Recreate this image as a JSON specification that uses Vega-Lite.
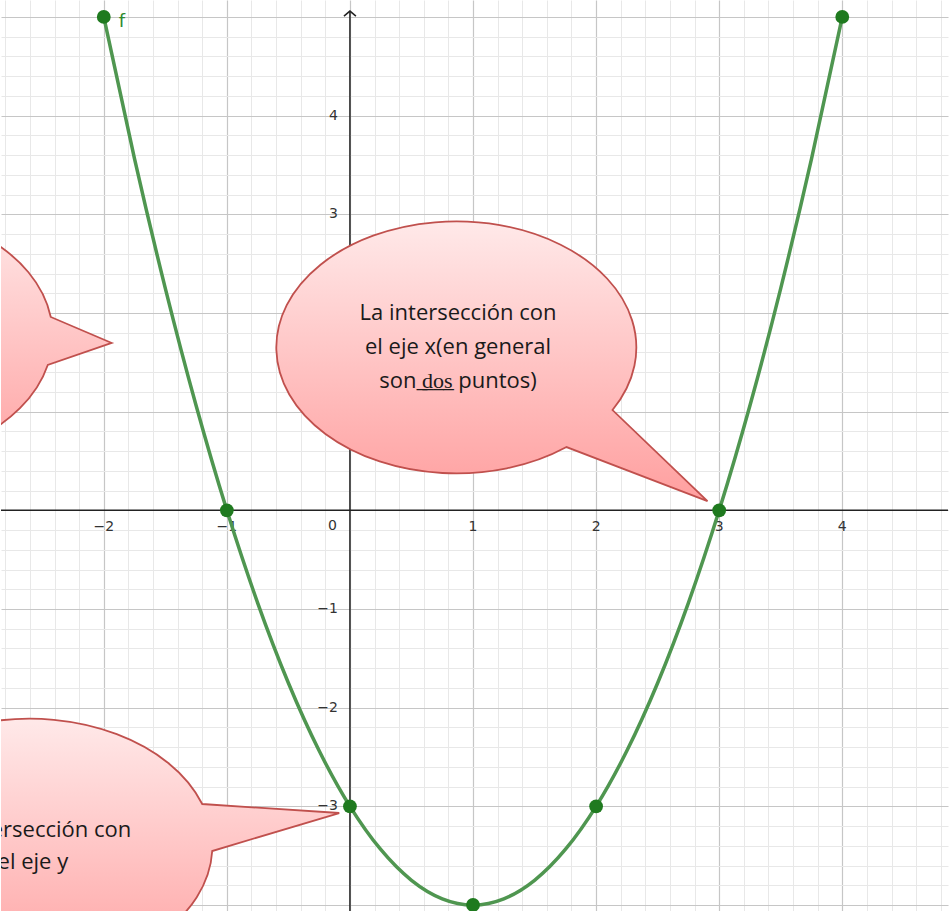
{
  "$schema": "https://vega.github.io/schema/vega-lite/v6.json",
  "width": 949,
  "height": 911,
  "padding": 0,
  "autosize": {"type": "fit", "contains": "padding"},
  "background": "white",
  "config": {"view": {"stroke": null}},
  "datasets": {
    "curve": [
      {"x": -2, "y": 5}, {"x": -1.75, "y": 3.5625}, {"x": -1.5, "y": 2.25}, {"x": -1.25, "y": 1.0625},
      {"x": -1, "y": 0}, {"x": -0.75, "y": -0.9375}, {"x": -0.5, "y": -1.75}, {"x": -0.25, "y": -2.4375},
      {"x": 0, "y": -3}, {"x": 0.25, "y": -3.4375}, {"x": 0.5, "y": -3.75}, {"x": 0.75, "y": -3.9375},
      {"x": 1, "y": -4}, {"x": 1.25, "y": -3.9375}, {"x": 1.5, "y": -3.75}, {"x": 1.75, "y": -3.4375},
      {"x": 2, "y": -3}, {"x": 2.25, "y": -2.4375}, {"x": 2.5, "y": -1.75}, {"x": 2.75, "y": -0.9375},
      {"x": 3, "y": 0}, {"x": 3.25, "y": 1.0625}, {"x": 3.5, "y": 2.25}, {"x": 3.75, "y": 3.5625},
      {"x": 4, "y": 5}
    ],
    "pts": [
      {"x": -2, "y": 5}, {"x": -1, "y": 0}, {"x": 0, "y": -3}, {"x": 1, "y": -4},
      {"x": 2, "y": -3}, {"x": 3, "y": 0}, {"x": 4, "y": 5}
    ],
    "xlabels": [
      {"x": -2, "y": 0, "t": "−2"}, {"x": -1, "y": 0, "t": "−1"}, {"x": 1, "y": 0, "t": "1"},
      {"x": 2, "y": 0, "t": "2"}, {"x": 3, "y": 0, "t": "3"}, {"x": 4, "y": 0, "t": "4"}
    ],
    "ylabels": [
      {"x": 0, "y": 4, "t": "4"}, {"x": 0, "y": 3, "t": "3"}, {"x": 0, "y": 2, "t": "2"},
      {"x": 0, "y": 1, "t": "1"}, {"x": 0, "y": -1, "t": "−1"}, {"x": 0, "y": -2, "t": "−2"},
      {"x": 0, "y": -3, "t": "−3"}
    ],
    "bubbles": [
      {"id": "mid", "x": 2.905, "y": 0.094},
      {"id": "left", "x": -1.935, "y": 1.696},
      {"id": "bottom", "x": -0.087, "y": -3.068}
    ],
    "notes": [
      {"x": 0.878, "y": 2.0, "t": "La intersección con"},
      {"x": 0.878, "y": 1.655, "t": "el eje x(en general"},
      {"x": 0.878, "y": 1.31, "t": "son \u0332d\u0332o\u0332s\u0332 puntos)"},
      {"x": -2.576, "y": -3.24, "t": "La intersección con"},
      {"x": -2.576, "y": -3.564, "t": "el eje y"}
    ]
  },
  "layer": [
    {
      "data": {"name": "pts"},
      "mark": {"type": "point", "opacity": 0},
      "encoding": {
        "x": {"field": "x", "type": "quantitative", "scale": {"domain": [-2.835, 4.859], "nice": false, "zero": false},
          "axis": {"orient": "bottom", "values": [-2.8,-2.6,-2.4,-2.2,-1.8,-1.6,-1.4,-1.2,-0.8,-0.6,-0.4,-0.2,0.2,0.4,0.6,0.8,1.2,1.4,1.6,1.8,2.2,2.4,2.6,2.8,3.2,3.4,3.6,3.8,4.2,4.4,4.6,4.8],
            "grid": true, "gridColor": "#e8e8e8", "gridWidth": 1, "labels": false, "ticks": false, "domain": false, "title": null, "offset": 0, "minExtent": 0, "maxExtent": 0}},
        "y": {"field": "y", "type": "quantitative", "scale": {"domain": [-4.061, 5.172], "nice": false, "zero": false},
          "axis": {"orient": "left", "values": [-3.8,-3.6,-3.4,-3.2,-2.8,-2.6,-2.4,-2.2,-1.8,-1.6,-1.4,-1.2,-0.8,-0.6,-0.4,-0.2,0.2,0.4,0.6,0.8,1.2,1.4,1.6,1.8,2.2,2.4,2.6,2.8,3.2,3.4,3.6,3.8,4.2,4.4,4.6,4.8],
            "grid": true, "gridColor": "#e8e8e8", "gridWidth": 1, "labels": false, "ticks": false, "domain": false, "title": null, "offset": 0, "minExtent": 0, "maxExtent": 0}}
      }
    },
    {
      "data": {"name": "pts"},
      "mark": {"type": "point", "opacity": 0},
      "encoding": {
        "x": {"field": "x", "type": "quantitative", "scale": {"domain": [-2.835, 4.859], "nice": false, "zero": false},
          "axis": {"orient": "top", "values": [-2, -1, 0, 1, 2, 3, 4],
            "grid": true, "gridColor": "#c6c6c6", "gridWidth": 1.2, "labels": false, "ticks": false, "domain": false, "title": null, "offset": 0, "minExtent": 0, "maxExtent": 0}},
        "y": {"field": "y", "type": "quantitative", "scale": {"domain": [-4.061, 5.172], "nice": false, "zero": false},
          "axis": {"orient": "right", "values": [-4, -3, -2, -1, 0, 1, 2, 3, 4, 5],
            "grid": true, "gridColor": "#c6c6c6", "gridWidth": 1.2, "labels": false, "ticks": false, "domain": false, "title": null, "offset": 0, "minExtent": 0, "maxExtent": 0}}
      }
    },
    {
      "data": {"values": [{"y": 0}]},
      "mark": {"type": "rule", "color": "#222222", "strokeWidth": 1.5},
      "encoding": {
        "y": {"field": "y", "type": "quantitative", "scale": {"domain": [-4.061, 5.172], "nice": false, "zero": false}, "axis": null}
      }
    },
    {
      "data": {"values": [{"x": 0, "y": -4.1, "y2": 5.06}]},
      "mark": {"type": "rule", "color": "#222222", "strokeWidth": 1.5, "clip": true},
      "encoding": {
        "x": {"field": "x", "type": "quantitative", "scale": {"domain": [-2.835, 4.859], "nice": false, "zero": false}, "axis": null},
        "y": {"field": "y", "type": "quantitative", "scale": {"domain": [-4.061, 5.172], "nice": false, "zero": false}, "axis": null},
        "y2": {"field": "y2"}
      }
    },
    {
      "data": {"values": [{"x": 0, "y": 5.06}]},
      "mark": {"type": "point", "shape": "M-6,5L0,0L6,5", "size": 4, "filled": false, "stroke": "#222222", "strokeWidth": 1.5, "opacity": 1},
      "encoding": {
        "x": {"field": "x", "type": "quantitative", "scale": {"domain": [-2.835, 4.859], "nice": false, "zero": false}, "axis": null},
        "y": {"field": "y", "type": "quantitative", "scale": {"domain": [-4.061, 5.172], "nice": false, "zero": false}, "axis": null}
      }
    },
    {
      "data": {"name": "xlabels"},
      "mark": {"type": "text", "font": "DejaVu Sans", "fontSize": 14, "color": "#333333", "align": "center", "baseline": "middle", "dy": 17},
      "encoding": {
        "x": {"field": "x", "type": "quantitative", "scale": {"domain": [-2.835, 4.859], "nice": false, "zero": false}, "axis": null},
        "y": {"field": "y", "type": "quantitative", "scale": {"domain": [-4.061, 5.172], "nice": false, "zero": false}, "axis": null},
        "text": {"field": "t"}
      }
    },
    {
      "data": {"name": "ylabels"},
      "mark": {"type": "text", "font": "DejaVu Sans", "fontSize": 14, "color": "#333333", "align": "right", "baseline": "middle", "dx": -12},
      "encoding": {
        "x": {"field": "x", "type": "quantitative", "scale": {"domain": [-2.835, 4.859], "nice": false, "zero": false}, "axis": null},
        "y": {"field": "y", "type": "quantitative", "scale": {"domain": [-4.061, 5.172], "nice": false, "zero": false}, "axis": null},
        "text": {"field": "t"}
      }
    },
    {
      "data": {"values": [{"x": 0, "y": 0, "t": "0"}]},
      "mark": {"type": "text", "font": "DejaVu Sans", "fontSize": 14, "color": "#333333", "align": "right", "baseline": "middle", "dx": -13, "dy": 16},
      "encoding": {
        "x": {"field": "x", "type": "quantitative", "scale": {"domain": [-2.835, 4.859], "nice": false, "zero": false}, "axis": null},
        "y": {"field": "y", "type": "quantitative", "scale": {"domain": [-4.061, 5.172], "nice": false, "zero": false}, "axis": null},
        "text": {"field": "t"}
      }
    },
    {
      "data": {"name": "bubbles"},
      "transform": [{"filter": "datum.id === 'mid'"}],
      "mark": {"type": "point", "shape": "M0,0L-95,-91A180,126,0,1,0,-141,-54Z", "size": 4, "filled": true, "opacity": 1, "clip": true,
        "fill": {"gradient": "linear", "x1": 0, "y1": 0, "x2": 0, "y2": 1, "stops": [{"offset": 0, "color": "#ffe9e9"}, {"offset": 1, "color": "#ff9f9f"}]},
        "stroke": "#c0504d", "strokeWidth": 1.8},
      "encoding": {
        "x": {"field": "x", "type": "quantitative", "scale": {"domain": [-2.835, 4.859], "nice": false, "zero": false}, "axis": null},
        "y": {"field": "y", "type": "quantitative", "scale": {"domain": [-4.061, 5.172], "nice": false, "zero": false}, "axis": null}
      }
    },
    {
      "data": {"name": "bubbles"},
      "transform": [{"filter": "datum.id === 'left'"}],
      "mark": {"type": "point", "shape": "M0,0L-61,-26A183,127,0,1,0,-64,22Z", "size": 4, "filled": true, "opacity": 1, "clip": true,
        "fill": {"gradient": "linear", "x1": 0, "y1": 0, "x2": 0, "y2": 1, "stops": [{"offset": 0, "color": "#ffe9e9"}, {"offset": 1, "color": "#ffa3a3"}]},
        "stroke": "#c0504d", "strokeWidth": 1.8},
      "encoding": {
        "x": {"field": "x", "type": "quantitative", "scale": {"domain": [-2.835, 4.859], "nice": false, "zero": false}, "axis": null},
        "y": {"field": "y", "type": "quantitative", "scale": {"domain": [-4.061, 5.172], "nice": false, "zero": false}, "axis": null}
      }
    },
    {
      "data": {"name": "bubbles"},
      "transform": [{"filter": "datum.id === 'bottom'"}],
      "mark": {"type": "point", "shape": "M0,0L-137,-9A183,127,0,1,0,-127,38Z", "size": 4, "filled": true, "opacity": 1, "clip": true,
        "fill": {"gradient": "linear", "x1": 0, "y1": 0, "x2": 0, "y2": 1, "stops": [{"offset": 0, "color": "#ffe9e9"}, {"offset": 1, "color": "#ffa3a3"}]},
        "stroke": "#c0504d", "strokeWidth": 1.8},
      "encoding": {
        "x": {"field": "x", "type": "quantitative", "scale": {"domain": [-2.835, 4.859], "nice": false, "zero": false}, "axis": null},
        "y": {"field": "y", "type": "quantitative", "scale": {"domain": [-4.061, 5.172], "nice": false, "zero": false}, "axis": null}
      }
    },
    {
      "data": {"name": "curve"},
      "mark": {"type": "line", "color": "#4f9650", "strokeWidth": 3.5, "interpolate": "monotone", "clip": true},
      "encoding": {
        "x": {"field": "x", "type": "quantitative", "scale": {"domain": [-2.835, 4.859], "nice": false, "zero": false}, "axis": null},
        "y": {"field": "y", "type": "quantitative", "scale": {"domain": [-4.061, 5.172], "nice": false, "zero": false}, "axis": null}
      }
    },
    {
      "data": {"name": "pts"},
      "mark": {"type": "point", "shape": "circle", "filled": true, "size": 190, "color": "#1f7a1f", "opacity": 1, "clip": true},
      "encoding": {
        "x": {"field": "x", "type": "quantitative", "scale": {"domain": [-2.835, 4.859], "nice": false, "zero": false}, "axis": null},
        "y": {"field": "y", "type": "quantitative", "scale": {"domain": [-4.061, 5.172], "nice": false, "zero": false}, "axis": null}
      }
    },
    {
      "data": {"name": "notes"},
      "mark": {"type": "text", "font": "Open Sans", "fontSize": 22, "color": "#1a1a1a", "align": "center", "baseline": "middle", "clip": true},
      "encoding": {
        "x": {"field": "x", "type": "quantitative", "scale": {"domain": [-2.835, 4.859], "nice": false, "zero": false}, "axis": null},
        "y": {"field": "y", "type": "quantitative", "scale": {"domain": [-4.061, 5.172], "nice": false, "zero": false}, "axis": null},
        "text": {"field": "t"}
      }
    },
    {
      "data": {"values": [{"x": -2, "y": 5, "t": "f"}]},
      "mark": {"type": "text", "font": "DejaVu Sans", "fontSize": 18, "color": "#2f8a2f", "align": "left", "baseline": "middle", "dx": 15, "dy": 5},
      "encoding": {
        "x": {"field": "x", "type": "quantitative", "scale": {"domain": [-2.835, 4.859], "nice": false, "zero": false}, "axis": null},
        "y": {"field": "y", "type": "quantitative", "scale": {"domain": [-4.061, 5.172], "nice": false, "zero": false}, "axis": null},
        "text": {"field": "t"}
      }
    }
  ],
  "resolve": {"axis": {"x": "independent", "y": "independent"}}
}
